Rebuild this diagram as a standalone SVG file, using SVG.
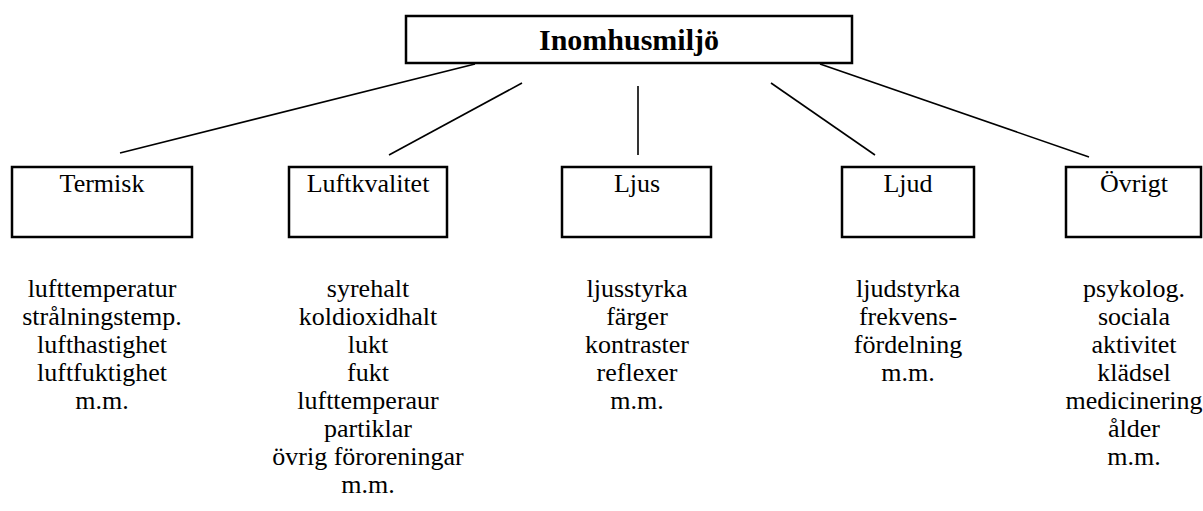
<svg xmlns="http://www.w3.org/2000/svg" width="1203" height="511" viewBox="0 0 1203 511" font-family="'Liberation Serif', 'DejaVu Serif', 'Times New Roman', serif">
<style>
.box{fill:#fff;stroke:#000;stroke-width:2.5}
text{font-family:'Liberation Serif','DejaVu Serif','Times New Roman',serif;fill:#000;text-anchor:middle}
.lbl{font-size:26px}
.title{font-size:30px;font-weight:bold}
.conn line{stroke:#000;stroke-width:1.6}
</style>
<rect width="1203" height="511" fill="#fff"/>
<g id="connectors" class="conn">
<line x1="475" y1="64" x2="120" y2="153"/>
<line x1="522" y1="83" x2="389" y2="155"/>
<line x1="638" y1="86" x2="638" y2="155"/>
<line x1="771" y1="83" x2="875" y2="155"/>
<line x1="820" y1="64" x2="1089" y2="157"/>
</g>
<g id="inomhusmiljo">
<rect class="box" x="406" y="16" width="446" height="47"/>
<text class="title" x="629" y="50">Inomhusmiljö</text>
</g>
<g id="termisk">
<rect class="box" x="12" y="167" width="180" height="70"/>
<text class="lbl" x="102" y="192">Termisk</text>
<text class="lbl" x="102" y="297">lufttemperatur</text>
<text class="lbl" x="102" y="325">strålningstemp.</text>
<text class="lbl" x="102" y="353">lufthastighet</text>
<text class="lbl" x="102" y="381">luftfuktighet</text>
<text class="lbl" x="102" y="409">m.m.</text>
</g>
<g id="luftkvalitet">
<rect class="box" x="289" y="167" width="158" height="70"/>
<text class="lbl" x="368" y="192">Luftkvalitet</text>
<text class="lbl" x="368" y="297">syrehalt</text>
<text class="lbl" x="368" y="325">koldioxidhalt</text>
<text class="lbl" x="368" y="353">lukt</text>
<text class="lbl" x="368" y="381">fukt</text>
<text class="lbl" x="368" y="409">lufttemperaur</text>
<text class="lbl" x="368" y="437">partiklar</text>
<text class="lbl" x="368" y="465">övrig föroreningar</text>
<text class="lbl" x="368" y="493">m.m.</text>
</g>
<g id="ljus">
<rect class="box" x="562" y="167" width="149" height="70"/>
<text class="lbl" x="637" y="192">Ljus</text>
<text class="lbl" x="637" y="297">ljusstyrka</text>
<text class="lbl" x="637" y="325">färger</text>
<text class="lbl" x="637" y="353">kontraster</text>
<text class="lbl" x="637" y="381">reflexer</text>
<text class="lbl" x="637" y="409">m.m.</text>
</g>
<g id="ljud">
<rect class="box" x="842" y="167" width="132" height="70"/>
<text class="lbl" x="908" y="192">Ljud</text>
<text class="lbl" x="908" y="297">ljudstyrka</text>
<text class="lbl" x="908" y="325">frekvens-</text>
<text class="lbl" x="908" y="353">fördelning</text>
<text class="lbl" x="908" y="381">m.m.</text>
</g>
<g id="ovrigt">
<rect class="box" x="1066" y="167" width="135" height="70"/>
<text class="lbl" x="1134" y="192">Övrigt</text>
<text class="lbl" x="1134" y="297">psykolog.</text>
<text class="lbl" x="1134" y="325">sociala</text>
<text class="lbl" x="1134" y="353">aktivitet</text>
<text class="lbl" x="1134" y="381">klädsel</text>
<text class="lbl" x="1134" y="409">medicinering</text>
<text class="lbl" x="1134" y="437">ålder</text>
<text class="lbl" x="1134" y="465">m.m.</text>
</g>
</svg>
